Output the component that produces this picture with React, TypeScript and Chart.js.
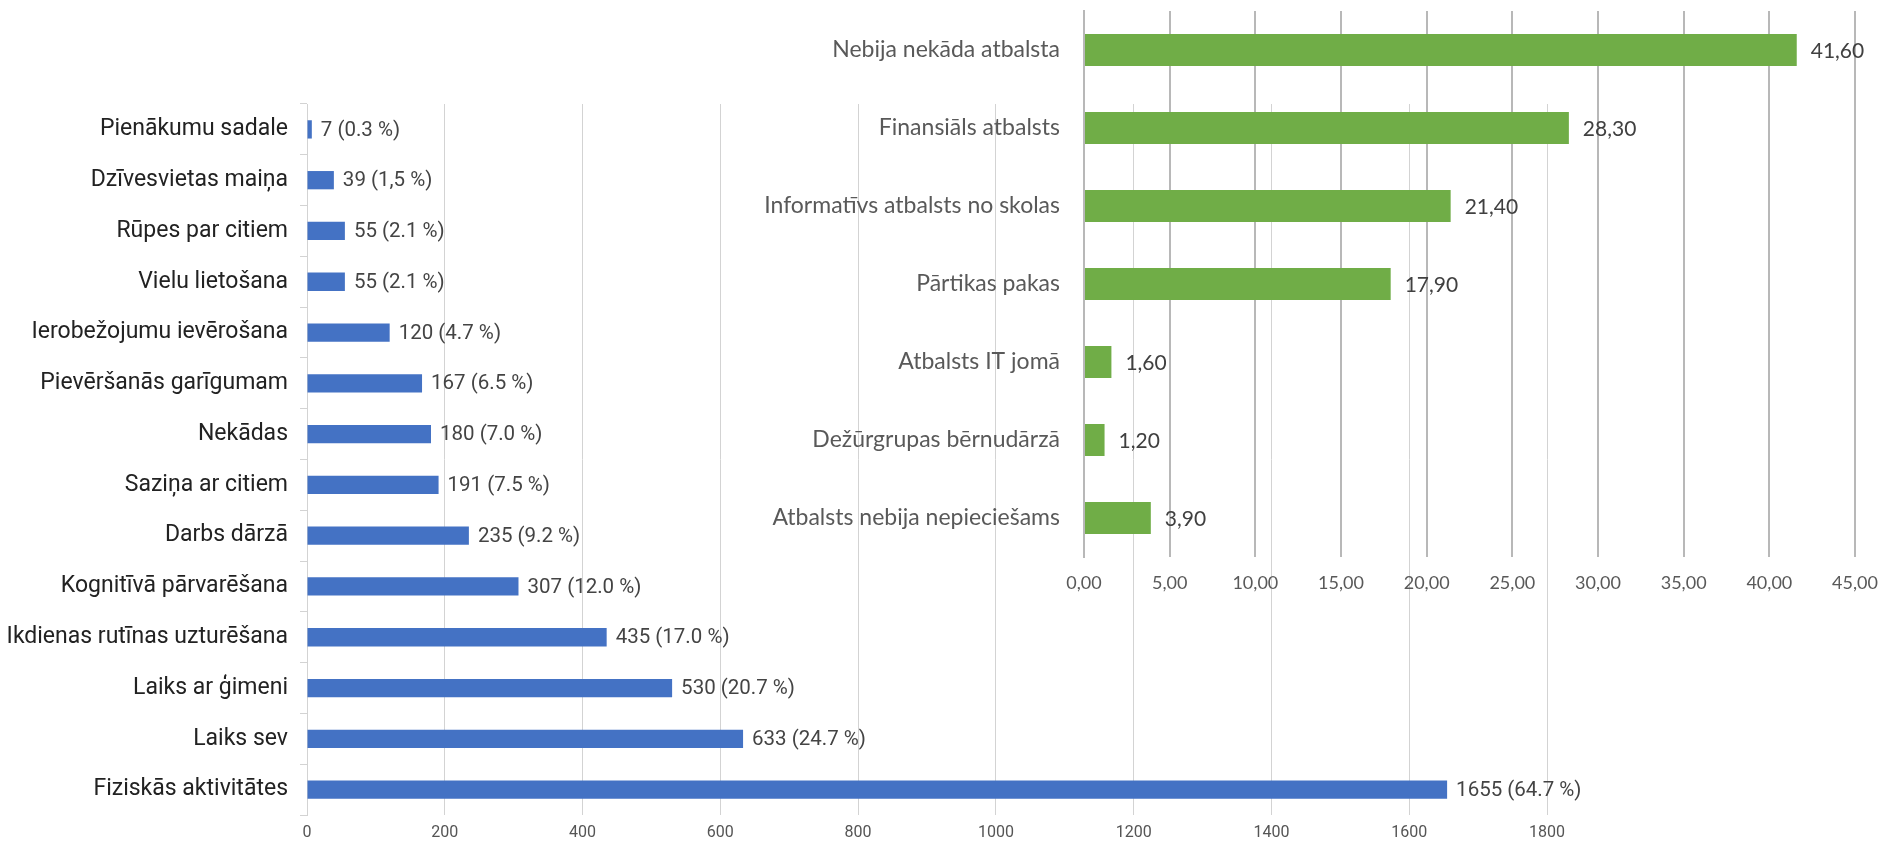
import React, { useEffect, useRef } from 'react';
import { Chart, registerables } from 'chart.js';

Chart.register(...registerables);

// ---- Chart 1: coping activities (blue) ----
const activityLabels = [
  'Pienākumu sadale',
  'Dzīvesvietas maiņa',
  'Rūpes par citiem',
  'Vielu lietošana',
  'Ierobežojumu ievērošana',
  'Pievēršanās garīgumam',
  'Nekādas',
  'Saziņa ar citiem',
  'Darbs dārzā',
  'Kognitīvā pārvarēšana',
  'Ikdienas rutīnas uzturēšana',
  'Laiks ar ģimeni',
  'Laiks sev',
  'Fiziskās aktivitātes',
];
const activityCounts = [7, 39, 55, 55, 120, 167, 180, 191, 235, 307, 435, 530, 633, 1655];
const activityPercents = ['0.3', '1,5', '2.1', '2.1', '4.7', '6.5', '7.0', '7.5', '9.2', '12.0', '17.0', '20.7', '24.7', '64.7'];
const countAxisMax = 1800;
const countAxisStep = 200;

// ---- Chart 2: support received (green) ----
const supportLabels = [
  'Nebija nekāda atbalsta',
  'Finansiāls atbalsts',
  'Informatīvs atbalsts no skolas',
  'Pārtikas pakas',
  'Atbalsts IT jomā',
  'Dežūrgrupas bērnudārzā',
  'Atbalsts nebija nepieciešams',
];
const supportValues = [41.6, 28.3, 21.4, 17.9, 1.6, 1.2, 3.9];
const supportAxisMax = 45;
const supportAxisStep = 5;

const W = 1882;
const H = 842;

const comma2 = (v: number) => v.toFixed(2).replace('.', ',');

function makeLabelPlugin(id: string, texts: string[], font: string, color: string, offset: number) {
  return {
    id,
    afterDatasetsDraw(chart: any) {
      const ctx = chart.ctx;
      const meta = chart.getDatasetMeta(0);
      ctx.save();
      ctx.font = font;
      ctx.fillStyle = color;
      ctx.textAlign = 'left';
      ctx.textBaseline = 'middle';
      meta.data.forEach((bar: any, i: number) => {
        ctx.fillText(texts[i], bar.x + offset, bar.y + 1);
      });
      ctx.restore();
    },
  };
}

export default function App() {
  const blueRef = useRef<HTMLCanvasElement | null>(null);
  const greenRef = useRef<HTMLCanvasElement | null>(null);

  useEffect(() => {
    const blueTexts = activityCounts.map((c, i) => `${c} (${activityPercents[i]} %)`);
    const greenTexts = supportValues.map((v) => comma2(v));

    const blue = new Chart(blueRef.current as HTMLCanvasElement, {
      type: 'bar',
      data: {
        labels: activityLabels,
        datasets: [
          {
            data: activityCounts,
            backgroundColor: '#4472c4',
            barPercentage: 0.36,
            categoryPercentage: 1,
          },
        ],
      },
      options: {
        indexAxis: 'y',
        responsive: false,
        animation: false,
        layout: { padding: { top: 104, right: W - 1547, bottom: 0, left: 0 } },
        plugins: { legend: { display: false }, tooltip: { enabled: false } },
        scales: {
          x: {
            min: 0,
            max: countAxisMax,
            ticks: {
              stepSize: countAxisStep,
              color: '#555555',
              font: { family: 'Roboto', size: 16 },
              padding: 8,
              callback: (v: any) => String(v),
            },
            grid: { color: '#d3d3d3', drawTicks: false },
            border: { display: false },
            afterFit: (s: any) => {
              s.height = 27;
              s.paddingLeft = 0;
              s.paddingRight = 0;
            },
          },
          y: {
            ticks: {
              color: '#222222',
              font: { family: 'Roboto', size: 23 },
              padding: 12,
              autoSkip: false,
            },
            grid: {
              offset: true,
              drawOnChartArea: false,
              drawTicks: true,
              tickLength: 7,
              color: '#d3d3d3',
            },
            border: { display: true, color: '#d3d3d3' },
            afterFit: (s: any) => {
              s.width = 307;
              s.paddingTop = 0;
              s.paddingBottom = 0;
            },
          },
        },
      } as any,
      plugins: [makeLabelPlugin('blueLabels', blueTexts, '20.5px Roboto', '#444444', 9)],
    });

    const green = new Chart(greenRef.current as HTMLCanvasElement, {
      type: 'bar',
      data: {
        labels: supportLabels,
        datasets: [
          {
            data: supportValues,
            backgroundColor: '#70ad47',
            barPercentage: 0.41,
            categoryPercentage: 1,
          },
        ],
      },
      options: {
        indexAxis: 'y',
        responsive: false,
        animation: false,
        layout: { padding: { top: 11, right: W - 1855, bottom: H - 557 - 40, left: 0 } },
        plugins: { legend: { display: false }, tooltip: { enabled: false } },
        scales: {
          x: {
            min: 0,
            max: supportAxisMax,
            ticks: {
              stepSize: supportAxisStep,
              color: '#595959',
              font: { family: 'Lato', size: 18 },
              padding: 15,
              callback: (v: any) => comma2(Number(v)),
            },
            grid: { color: '#b8b8b8', lineWidth: 2, drawTicks: false },
            border: { display: false },
            afterFit: (s: any) => {
              s.height = 40;
              s.paddingLeft = 0;
              s.paddingRight = 0;
            },
          },
          y: {
            ticks: {
              color: '#595959',
              font: { family: 'Lato', size: 23 },
              padding: 24,
              autoSkip: false,
            },
            grid: { drawOnChartArea: false, drawTicks: false },
            border: { display: true, color: '#b8b8b8', width: 2 },
            afterFit: (s: any) => {
              s.width = 1084;
              s.paddingTop = 0;
              s.paddingBottom = 0;
            },
          },
        },
      } as any,
      plugins: [makeLabelPlugin('greenLabels', greenTexts, '21px Lato', '#404040', 14)],
    });

    return () => {
      blue.destroy();
      green.destroy();
    };
  }, []);

  return (
    <div
      style={{
        position: 'fixed',
        left: 0,
        top: 0,
        width: W,
        height: H,
        background: '#ffffff',
        overflow: 'hidden',
      }}
    >
      <canvas
        ref={blueRef}
        width={W}
        height={H}
        style={{ position: 'absolute', left: 0, top: 0, width: W, height: H }}
      />
      <canvas
        ref={greenRef}
        width={W}
        height={H}
        style={{ position: 'absolute', left: 0, top: 0, width: W, height: H }}
      />
    </div>
  );
}
